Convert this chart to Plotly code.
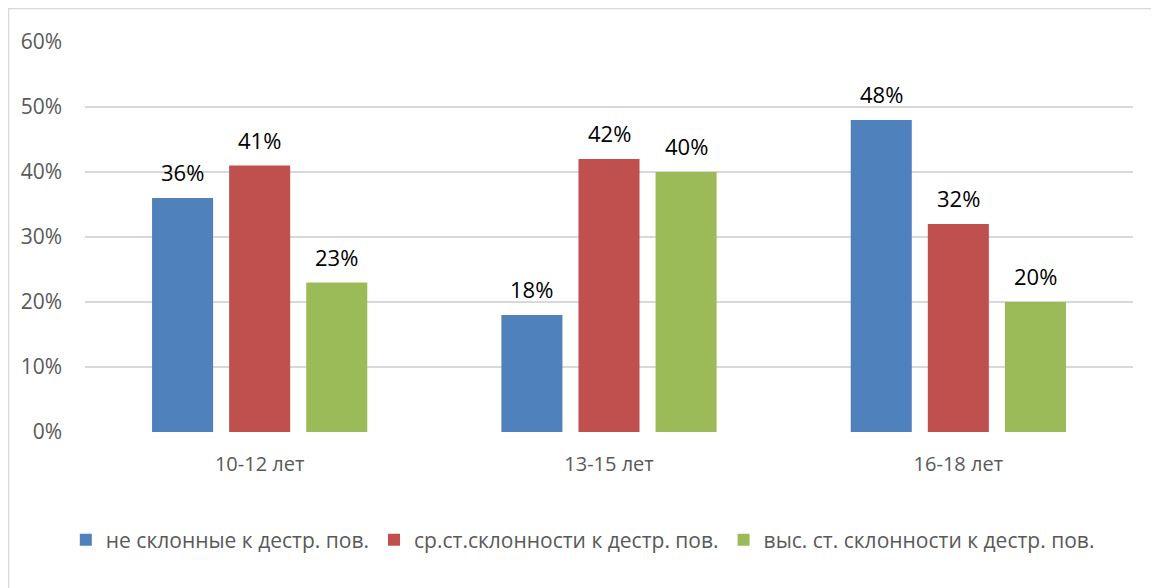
import plotly.graph_objects as go

categories = ["10-12 лет", "13-15 лет", "16-18 лет"]
series_names = [
    "не склонные к дестр. пов.",
    "ср.ст.склонности к дестр. пов.",
    "выс. ст. склонности к дестр. пов.",
]
not_prone = [36, 18, 48]
medium = [41, 42, 32]
high = [23, 40, 20]
y_ticks = [0, 10, 20, 30, 40, 50, 60]

colors = ["#4f81bd", "#c0504d", "#9bbb59"]
series_values = [not_prone, medium, high]

FONT = "'Open Sans', sans-serif"
# page is offset by the 8px body margin
W, H = 1151, 580
L, T = 77, 34
pw, ph = 1048, 390
R, B = W - L - pw, H - T - ph

fig = go.Figure()
for name, vals, col in zip(series_names, series_values, colors):
    fig.add_trace(go.Bar(
        x=categories, y=vals, name=name,
        marker=dict(color=col, line=dict(width=0)),
        hoverinfo="skip",
    ))

annotations = []
slot = pw / 3 * (1 - 0.338) / 3
for i, vals in enumerate(series_values):
    for c, v in zip(categories, vals):
        annotations.append(dict(
            x=c, y=v, xref="x", yref="y", text=f"{v}%",
            showarrow=False, xshift=(i - 1) * slot, yshift=26,
            font=dict(family=FONT, size=22, color="#000000"),
        ))

fig.update_layout(
    width=W, height=H,
    margin=dict(l=L, r=R, t=T, b=B, pad=0),
    paper_bgcolor="white", plot_bgcolor="white",
    barmode="group", bargap=0.338, bargroupgap=0.208,
    font=dict(family=FONT, color="#595959"),
    xaxis=dict(
        showgrid=False, zeroline=False, showline=False, ticks="",
        tickfont=dict(size=20, color="#595959"),
        ticklabelstandoff=18,
    ),
    yaxis=dict(
        range=[0, 60], tickvals=y_ticks,
        ticktext=[f"{t}%" for t in y_ticks],
        showgrid=True, gridcolor="#d9d9d9", gridwidth=1.5,
        zeroline=False, showline=False, ticks="", ticklen=0,
        tickfont=dict(size=21, color="#595959"),
        ticklabelstandoff=22,
    ),
    legend=dict(
        orientation="h", x=0.475, xanchor="center",
        y=(T + ph - 532) / ph, yanchor="middle",
        font=dict(size=21, color="#595959"),
        itemwidth=30, tracegroupgap=0,
    ),
    annotations=annotations,
    shapes=[dict(
        type="rect", xref="paper", yref="paper",
        x0=(0.5 - L) / pw, x1=(W + 10 - L) / pw,
        y0=-(H + 10 - T - ph) / ph, y1=1 + (T - 0.5) / ph,
        line=dict(color="#d9d9d9", width=1.5), fillcolor="rgba(0,0,0,0)",
        layer="below",
    )],
)

fig.write_html("out.html")
